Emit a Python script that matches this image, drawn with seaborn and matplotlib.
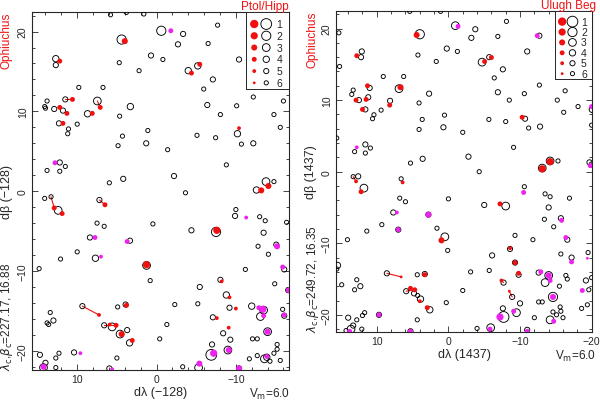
import pandas as pd
import matplotlib
matplotlib.use("Agg")
import matplotlib.pyplot as plt
import seaborn as sns
from matplotlib.ticker import MultipleLocator

# ---------------- left panel: Ptol/Hipp ----------------
# open circles = Hipparcos stars (dlambda, dbeta, magnitude)
hip_left = [
    (5.8, 22.1, 6), (3.8, 22.4, 6), (1.6, 22.2, 6), (-0.6, 20.1, 2), (4.4, 19.0, 2),
    (-3.35, 19.7, 5), (-2.7, 18.4, 5), (-7.7, 20.8, 6), (12.7, 16.6, 4), (12.7, 15.8, 5),
    (4.7, 16.1, 6), (0.7, 17.0, 5), (-0.8, 16.5, 6), (2.2, 15.1, 6), (-4.0, 15.1, 4),
    (-5.2, 15.7, 4), (-6.5, 18.5, 6), (-10.4, 16.5, 5), (-7.1, 14.0, 5), (-5.95, 12.8, 6),
    (9.8, 13.0, 6), (6.75, 13.0, 6), (13.8, 11.3, 6), (14.1, 10.6, 6), (14.0, 10.4, 6),
    (12.9, 10.3, 5), (11.8, 10.1, 5), (11.5, 11.5, 5), (12.3, 8.5, 5), (11.1, 7.8, 6),
    (11.2, 7.2, 6), (10.0, 8.4, 6), (8.7, 9.7, 4), (7.46, 11.3, 3), (3.3, 10.6, 4),
    (4.65, 9.4, 6), (4.3, 6.9, 6), (4.85, 5.7, 6), (1.3, 6.0, 5), (1.1, 7.6, 6),
    (-1.4, 5.2, 6), (-5.1, 7.0, 6), (-6.4, 10.8, 5), (-8.05, 9.6, 6), (-7.45, 6.7, 6),
    (-10.1, 10.7, 6), (-10.2, 7.2, 4), (-10.7, 5.9, 6), (-12.2, 6.0, 5), (-12.2, 11.8, 6),
    (-14.8, 9.6, 6), (-16.0, 11.3, 6), (-15.6, 8.0, 6), (12.2, 3.6, 5), (11.5, 3.1, 6),
    (13.8, 2.6, 6), (12.2, 2.5, 6), (5.95, 1.05, 6), (4.2, 1.55, 5), (-2.2, 1.9, 5),
    (-3.65, -0.2, 6), (-8.8, 3.3, 6), (-12.6, 0.15, 4), (-13.8, 1.2, 3), (-14.8, 1.2, 6),
    (14.1, -0.9, 6), (13.3, -0.7, 6), (7.2, -1.1, 5), (12.4, -2.4, 3), (7.5, -4.0, 6),
    (6.6, -4.4, 6), (8.4, -5.8, 5), (3.35, -6.2, 5), (0.46, -4.1, 6), (-4.4, -4.9, 5),
    (-7.5, -5.1, 2), (-10.0, -2.3, 6), (-9.9, -3.1, 5), (-13.0, -3.2, 6), (-13.7, -3.7, 6),
    (-16.4, -3.9, 6), (-13.5, -5.2, 5), (-12.8, -6.9, 6), (-15.1, -6.7, 5), (-14.1, -7.9, 6),
    (10.0, -7.6, 6), (12.1, -8.5, 6), (7.7, -8.4, 4), (14.8, -9.7, 6), (1.26, -9.3, 3),
    (0.8, -11.2, 6), (-5.45, -12.0, 5), (-8.05, -11.1, 5), (-11.2, -9.8, 6), (-16.1, -9.8, 5),
    (-14.9, -11.6, 6), (-16.6, -12.4, 5), (-8.8, -13.0, 4), (-9.2, -14.6, 5), (-12.0, -14.4, 4),
    (-13.5, -14.9, 3), (-13.1, -15.7, 3), (-15.9, -14.8, 6), (-16.1, -15.6, 5), (-7.1, -15.8, 5),
    (-8.4, -17.8, 5), (-9.3, -18.6, 5), (-14.0, -17.6, 3), (-12.1, -18.5, 6), (-12.7, -18.5, 6),
    (-15.2, -19.8, 6), (-15.2, -19.2, 6), (-12.7, -20.6, 6), (-13.9, -20.8, 4), (-13.6, -21.0, 3),
    (-14.8, -20.3, 6), (-14.3, -21.3, 6), (-15.6, -21.2, 6), (-11.7, -21.0, 6), (-9.0, -19.9, 3),
    (-7.0, -19.2, 5), (-6.9, -20.5, 1), (-5.3, -22.1, 3), (-10.4, -22.2, 5), (-3.3, -22.0, 6),
    (-5.2, -14.1, 6), (-2.3, -14.2, 6), (-1.3, -16.7, 6), (-0.4, -18.5, 6), (3.9, -14.2, 5),
    (4.9, -14.5, 6), (9.35, -14.4, 5), (6.6, -16.8, 5), (5.6, -17.0, 3), (3.7, -17.4, 5),
    (4.6, -17.9, 3), (3.4, -19.0, 4), (5.0, -20.9, 6), (10.4, -20.2, 5), (12.3, -20.3, 6),
    (14.7, -20.5, 5), (14.0, -21.5, 5), (14.25, -22.1, 3), (12.7, -22.1, 6), (12.7, -20.9, 6),
    (5.95, -22.2, 5), (13.4, -15.2, 6), (13.8, -16.5, 6), (13.6, -16.7, 6), (13.0, -16.2, 5),
]
# red dots = identified catalogue stars
cat_left = [
    (4.0, 18.8, 3), (12.2, 16.3, 4), (-4.4, 14.8, 4), (-5.45, 15.9, 4), (12.2, 10.5, 4),
    (11.3, 9.75, 4), (10.6, 11.5, 4), (11.8, 8.5, 4), (8.1, 9.75, 4), (7.1, 10.5, 4),
    (-10.4, 7.9, 5), (-13.2, 0.1, 3), (-14.1, 0.65, 3), (12.9, -2.1, 4), (11.9, -2.8, 4),
    (6.5, -1.7, 4), (-7.6, -4.9, 2), (1.26, -9.2, 2), (-8.2, -11.3, 5), (-9.2, -13.3, 5),
    (-10.0, -14.7, 5), (-7.6, -15.9, 5), (-9.1, -17.1, 5), (3.8, -14.3, 4), (7.25, -15.5, 5),
    (5.1, -16.8, 4), (5.9, -16.7, 5), (4.4, -17.9, 3), (3.06, -18.7, 4),
]
# magenta dots
other_left = [
    (-1.8, 20.1, 4), (12.8, 3.56, 4), (7.76, -5.8, 4), (3.7, -6.3, 4), (-11.3, -3.3, 5),
    (-15.2, -6.9, 3), (7.0, -8.2, 5), (-15.9, -9.5, 4), (-16.7, -12.4, 3), (-13.4, -14.8, 2),
    (-12.9, -14.6, 4), (-13.5, -15.6, 4), (-16.1, -15.5, 4), (-14.0, -17.6, 3), (-13.9, -20.7, 4),
    (-9.1, -19.9, 3), (-7.2, -20.3, 2), (-5.4, -21.6, 3), (-10.4, -22.2, 3), (9.6, -20.3, 5),
    (14.25, -22.0, 3), (5.6, -22.3, 5),
]
# red lines: star -> catalogue position
links_left = [
    (9.35, -14.4, 7.25, -15.5), (13.3, -0.7, 12.9, -2.1), (11.5, 11.5, 10.6, 11.5),
    (6.6, -16.8, 5.1, -16.8), (7.46, 11.3, 7.1, 10.5), (7.2, -1.1, 6.5, -1.7),
]

# ---------------- right panel: Ulugh Beg ----------------
hip_right = [
    (5.4, 22.4, 6), (1.1, 22.4, 6), (-0.97, 20.4, 3), (4.0, 19.2, 2), (15.3, 19.4, 6),
    (15.2, 14.7, 6), (12.1, 16.8, 5), (12.2, 16.0, 5), (4.26, 16.3, 6), (0.23, 17.2, 5),
    (-1.25, 16.8, 6), (1.7, 15.4, 6), (-3.2, 18.7, 5), (-3.75, 19.9, 5), (-6.9, 18.9, 6),
    (-8.1, 21.0, 6), (-4.7, 15.3, 3), (-5.7, 16.0, 5), (-11.0, 16.8, 5), (-7.6, 14.3, 5),
    (-6.4, 13.1, 6), (-6.9, 11.1, 5), (-8.5, 10.0, 6), (-12.7, 12.1, 6), (-10.6, 10.9, 6),
    (-15.2, 10.0, 6), (-16.3, 11.3, 6), (-18.1, 9.1, 6), (-16.1, 8.3, 6), (-20.1, 8.7, 4),
    (-20.0, 6.5, 6), (-12.7, 19.0, 5), (13.3, 11.4, 6), (13.5, 10.8, 6), (12.5, 10.0, 5),
    (11.2, 10.4, 5), (11.0, 11.7, 5), (11.6, 8.7, 5), (10.4, 7.95, 6), (10.6, 7.4, 6),
    (9.4, 8.6, 6), (9.1, 13.3, 6), (8.15, 9.9, 5), (6.9, 11.6, 3), (6.25, 13.3, 6),
    (2.7, 10.9, 5), (4.1, 9.6, 6), (3.66, 7.3, 6), (4.1, 5.9, 6), (0.7, 6.2, 5),
    (0.55, 7.9, 6), (-2.0, 5.5, 6), (-5.65, 7.3, 6), (-8.0, 7.0, 6), (-10.7, 7.4, 5),
    (-11.2, 6.1, 6), (-12.8, 6.3, 5), (15.6, 4.7, 6), (11.6, 3.8, 5), (10.9, 3.3, 6),
    (13.1, 2.8, 6), (11.6, 2.6, 6), (5.3, 1.2, 6), (3.6, 1.8, 5), (-2.8, 2.1, 5),
    (-9.1, 3.4, 6), (-4.3, 0.0, 6), (-13.1, 0.5, 3), (-14.2, 1.5, 3), (-15.3, 1.5, 6),
    (-19.7, 1.3, 5), (-20.0, 1.0, 5), (13.3, -0.7, 6), (12.6, -0.65, 5), (11.8, -2.3, 3),
    (6.6, -1.0, 6), (6.8, -3.7, 6), (0.0, -3.8, 6), (-10.6, -2.1, 6), (-13.5, -3.1, 6),
    (-14.2, -3.5, 6), (-16.9, -3.7, 6), (6.0, -4.2, 6), (-5.0, -4.65, 5), (-8.0, -4.8, 3),
    (-14.0, -5.0, 5), (-13.4, -6.65, 6), (-14.7, -7.7, 6), (-15.7, -6.5, 5), (7.7, -5.7, 5),
    (2.8, -6.0, 5), (9.3, -7.4, 6), (7.0, -8.1, 5), (11.4, -8.3, 6), (1.6, -7.9, 6),
    (0.5, -9.1, 3), (-9.3, -8.9, 6), (-11.8, -9.5, 6), (-16.6, -9.5, 5), (14.1, -9.5, 6),
    (-8.6, -10.8, 5), (0.1, -11.0, 6), (-6.1, -11.7, 5), (-15.7, -11.5, 6), (-17.2, -12.0, 5),
    (-19.5, -11.3, 6), (-9.3, -12.7, 5), (-9.8, -14.4, 5), (-12.6, -14.1, 5), (-14.0, -14.5, 3),
    (-13.5, -15.5, 3), (-16.4, -14.5, 6), (-16.6, -15.0, 6), (-15.5, -16.0, 6), (-19.2, -15.2, 5),
    (-20.0, -14.8, 6), (-19.6, -16.5, 6), (-14.6, -17.5, 2), (-15.6, -18.9, 6), (-15.7, -19.5, 6),
    (-12.6, -18.2, 6), (-13.1, -18.2, 6), (-10.0, -18.4, 5), (-12.0, -20.4, 6), (-14.2, -20.7, 3),
    (-15.1, -20.0, 6), (-16.0, -20.4, 6), (-14.6, -19.6, 6), (-18.6, -19.1, 6), (-19.4, -18.6, 6),
    (-9.5, -19.7, 3), (-7.6, -19.1, 5), (-7.7, -20.3, 1), (-5.9, -21.8, 3), (-11.0, -22.1, 5),
    (-4.0, -21.9, 6), (-7.7, -15.5, 5), (-8.9, -17.5, 5), (-5.7, -13.8, 6), (-3.1, -14.0, 6),
    (-2.0, -16.6, 6), (0.3, -18.3, 6), (3.3, -14.3, 5), (4.35, -14.4, 6), (8.6, -14.2, 5),
    (5.9, -16.7, 5), (4.8, -17.0, 5), (4.3, -17.3, 6), (3.9, -17.8, 4), (2.6, -19.3, 4),
    (4.35, -20.7, 6), (9.7, -20.0, 5), (11.7, -19.7, 6), (12.0, -20.1, 6), (12.8, -20.7, 6),
    (14.0, -20.4, 5), (13.3, -21.5, 5), (13.6, -22.0, 3), (12.1, -22.0, 6), (14.3, -22.2, 6),
    (5.3, -22.3, 5), (15.5, -13.1, 4), (15.6, -13.6, 6), (14.9, -15.8, 6), (12.8, -15.1, 6),
    (13.1, -16.5, 6), (12.3, -16.0, 5),
]
cat_right = [
    (4.44, 19.1, 3), (12.8, 16.2, 4), (-5.05, 15.4, 4), (-6.0, 15.95, 4), (12.9, 10.0, 4),
    (11.5, 10.1, 4), (11.3, 12.0, 4), (12.0, 8.7, 4), (8.2, 9.3, 4), (6.7, 11.8, 3),
    (-10.3, 7.6, 4), (-13.1, 0.4, 2), (-14.2, 1.4, 2), (12.9, -1.35, 5), (12.2, -2.8, 4),
    (6.4, -1.5, 5), (-7.2, -4.5, 4), (0.97, -9.6, 3), (-8.6, -10.7, 5), (-9.3, -12.7, 4),
    (-9.8, -14.2, 4), (-7.4, -15.2, 5), (-8.5, -16.7, 6), (3.3, -14.4, 4), (6.6, -14.7, 6),
    (5.3, -16.3, 4), (4.7, -16.5, 4), (4.0, -18.1, 5), (2.96, -19.0, 4),
]
other_right = [
    (-1.34, 20.3, 4), (-20.0, 19.9, 5), (-12.4, 19.0, 4), (-20.0, 9.1, 4), (12.8, 3.4, 5),
    (-19.8, 0.84, 4), (-10.5, -2.9, 4), (-15.8, -6.8, 4), (7.2, -5.7, 5), (2.8, -6.0, 3),
    (7.0, -8.1, 4), (-16.4, -9.2, 4), (-17.2, -12.6, 4), (-19.4, -12.1, 6), (-12.9, -14.0, 4),
    (-14.0, -14.5, 3), (-14.2, -15.2, 4), (-18.7, -16.6, 4), (-14.6, -17.5, 3), (-14.7, -20.9, 4),
    (-9.1, -19.5, 4), (-7.2, -20.3, 2), (-5.8, -22.0, 4), (-11.0, -22.3, 4), (9.7, -20.0, 4),
    (13.8, -22.3, 4), (5.3, -22.3, 4),
]
links_right = [
    (8.6, -14.2, 6.6, -14.7), (-8.9, -17.5, -8.5, -16.7), (5.9, -16.7, 4.7, -16.5),
    (13.3, -0.7, 12.9, -1.35), (-7.7, -15.5, -7.4, -15.2),
]

mags = [1, 2, 3, 4, 5, 6]
circ_sizes = {1: 60, 2: 44, 3: 31, 4: 21, 5: 14, 6: 9}
dot_sizes = {1: 36, 2: 27, 3: 19, 4: 12.5, 5: 7.5, 6: 4}
RED = "#f01010"
MAG = "#ee22ee"

sns.set_style("ticks")
plt.rcParams["font.family"] = ["Liberation Sans", "DejaVu Sans"]
plt.rcParams["mathtext.fontset"] = "dejavusans"


def to_df(rows):
    return pd.DataFrame(rows, columns=["x", "y", "m"])


def draw_panel(ax, hip, cat, other, links, xlim, xticks):
    for x0, y0, x1, y1 in links:
        ax.plot([x0, x1], [y0, y1], color=RED, lw=0.8, zorder=2)
    sns.scatterplot(data=to_df(hip), x="x", y="y", size="m", sizes=circ_sizes,
                    facecolor="none", edgecolor="black", linewidth=0.65,
                    legend=False, ax=ax, zorder=3)
    sns.scatterplot(data=to_df(cat), x="x", y="y", size="m", sizes=dot_sizes,
                    color=RED, edgecolor="none", legend=False, ax=ax, zorder=4)
    sns.scatterplot(data=to_df(other), x="x", y="y", size="m", sizes=dot_sizes,
                    color=MAG, edgecolor="none", legend=False, ax=ax, zorder=4)
    ax.set_xlim(*xlim)
    ax.set_ylim(-22.4, 22.45)
    ax.set_xticks(xticks)
    ax.set_yticks([-20, -10, 0, 10, 20])
    ax.xaxis.set_minor_locator(MultipleLocator(2))
    ax.yaxis.set_minor_locator(MultipleLocator(2))
    ax.tick_params(which="both", direction="in", top=True, right=True,
                   width=0.6, labelsize=7.5, pad=3)
    ax.tick_params(which="major", length=4)
    ax.tick_params(which="minor", length=2)
    ax.set_xticklabels([str(t).replace("-", "\u2212") for t in xticks])
    ax.set_yticklabels(["\u221220", "\u221210", "0", "10", "20"],
                       rotation=90, va="center")
    ax.set_xlabel("")
    ax.set_ylabel("")
    for s in ax.spines.values():
        s.set_linewidth(0.8)


def draw_key(ax, box):
    lg = ax.inset_axes(box)
    lg.set_xlim(0, 1)
    lg.set_ylim(6.52, -0.02)
    for s in lg.spines.values():
        s.set_linewidth(0.7)
    key = pd.DataFrame({"m": mags})
    sns.scatterplot(data=key.assign(x=0.19), x="x", y="m", size="m", sizes=dot_sizes,
                    color=RED, edgecolor="none", legend=False, ax=lg)
    sns.scatterplot(data=key.assign(x=0.47), x="x", y="m", size="m", sizes=circ_sizes,
                    facecolor="none", edgecolor="black", linewidth=0.65,
                    legend=False, ax=lg)
    for m in mags:
        lg.text(0.78, m, str(m), fontsize=7.5, va="center", ha="center")
    lg.set_xticks([])
    lg.set_yticks([])
    lg.set_xlabel("")
    lg.set_ylabel("")
    lg.set_zorder(6)


fig = plt.figure(figsize=(6.0, 4.02), dpi=100)
axL = fig.add_axes([32 / 600, 1 - 371 / 402, 257 / 600, 358 / 402])
axR = fig.add_axes([336 / 600, 1 - 333 / 402, 256 / 600, 321 / 402])

draw_panel(axL, hip_left, cat_left, other_left, links_left, (15.7, -16.7), [10, 0, -10])
draw_panel(axR, hip_right, cat_right, other_right, links_right, (15.7, -20.05), [10, 0, -10, -20])
draw_key(axL, [0.833, 0.785, 0.167, 0.215])
draw_key(axR, [0.856, 0.788, 0.144, 0.212])

axL.set_xlabel("d\u03bb (\u2212128)", fontsize=9)
axL.xaxis.set_label_coords(0.5, -0.045)
axL.set_ylabel("d\u03b2 (\u2212128)", fontsize=9)
axL.yaxis.set_label_coords(-0.072, 0.5)
axR.set_xlabel("d\u03bb (1437)", fontsize=9)
axR.xaxis.set_label_coords(0.5, -0.05)
axR.set_ylabel("d\u03b2 (1437)", fontsize=9)
axR.yaxis.set_label_coords(-0.074, 0.5)

fig.text(7 / 600, 1 - 13 / 402, "Ophiuchus", color=RED, rotation=90,
         ha="center", va="top", fontsize=8.5)
fig.text(313 / 600, 1 - 12 / 402, "Ophiuchus", color=RED, rotation=90,
         ha="center", va="top", fontsize=8.5)
fig.text(289 / 600, 1 - 7 / 402, "Ptol/Hipp", color=RED, ha="right",
         va="center", fontsize=8.5)
fig.text(596 / 600, 1 - 6 / 402, "Ulugh Beg", color=RED, ha="right",
         va="center", fontsize=8.5)
fig.text(7 / 600, 1 - 371 / 402,
         r"$\lambda_{\rm c}$,$\beta_{\rm c}$=227.17, 16.88", rotation=90,
         ha="center", va="bottom", fontsize=8.5)
fig.text(313 / 600, 1 - 333 / 402,
         r"$\lambda_{\rm c}$,$\beta_{\rm c}$=249.72, 16.35", rotation=90,
         ha="center", va="bottom", fontsize=8.5)
fig.text(290 / 600, 1 - 394 / 402, r"V$_{\rm m}$=6.0", ha="right",
         va="center", fontsize=8.5)
fig.text(596 / 600, 1 - 356 / 402, r"V$_{\rm m}$=6.0", ha="right",
         va="center", fontsize=8.5)

fig.savefig("out.png", dpi=100)
